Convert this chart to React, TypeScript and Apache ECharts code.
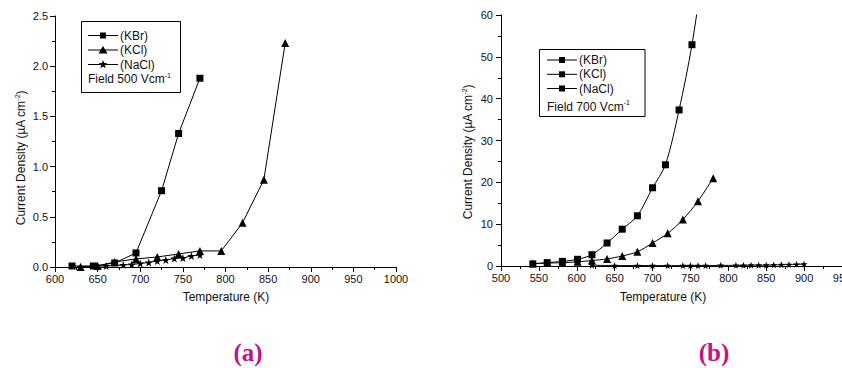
import React, { useEffect, useRef } from 'react';
import * as echarts from 'echarts';

// ---------- Data: panel (a), field 500 V/cm ----------
const tempA_KBr = [620, 645, 670, 695, 725, 745, 770];
const jA_KBr = [0.01, 0.01, 0.04, 0.14, 0.76, 1.33, 1.88];
const tempA_KCl = [630, 650, 670, 695, 720, 745, 770, 795, 820, 845, 870];
const jA_KCl = [0.0, 0.01, 0.05, 0.08, 0.1, 0.13, 0.16, 0.16, 0.44, 0.87, 2.23];
const tempA_NaCl = [630, 650, 660, 680, 690, 700, 710, 720, 730, 740, 750, 760, 770];
const jA_NaCl = [0.0, 0.01, 0.01, 0.02, 0.025, 0.035, 0.045, 0.06, 0.07, 0.085, 0.09, 0.11, 0.12];

// ---------- Data: panel (b), field 700 V/cm ----------
const tempB_KBr = [542, 561, 581, 601, 620, 640, 660, 680, 700, 717, 735, 752, 770];
const jB_KBr = [0.5, 0.8, 1.1, 1.6, 2.7, 5.5, 8.8, 12.0, 18.7, 24.2, 37.3, 52.9, 75];
const tempB_KCl = [542, 561, 581, 601, 620, 640, 660, 680, 700, 720, 740, 760, 780];
const jB_KCl = [0.6, 0.7, 0.8, 1.0, 1.3, 1.7, 2.4, 3.4, 5.5, 7.8, 11.1, 15.5, 21.0];
const tempB_NaCl = [620, 650, 680, 700, 720, 740, 750, 760, 770, 790, 810, 820, 830, 840, 850, 860, 870, 880, 890, 900];
const jB_NaCl = [0.2, 0.1, 0.1, 0.1, 0.1, 0.1, 0.1, 0.1, 0.1, 0.15, 0.15, 0.15, 0.2, 0.2, 0.2, 0.25, 0.3, 0.35, 0.4, 0.45];

const legendNames = ['(KBr)', '(KCl)', '(NaCl)'];
const fieldA = 'Field 500 Vcm';
const fieldB = 'Field 700 Vcm';
const yTitle = 'Current Density (µA cm';
const xTitle = 'Temperature (K)';

const FONT = '"Liberation Sans", Arial, sans-serif';
const STAR = 'path://M0,-10L2.35,-3.24L9.51,-3.09L3.8,1.24L5.88,8.09L0,4L-5.88,8.09L-3.8,1.24L-9.51,-3.09L-2.35,-3.24Z';

const zip = (xs: number[], ys: number[]) => xs.map((x, i) => [x, ys[i]]);

function starPoints(cx: number, cy: number, R: number, r: number) {
  const pts: number[][] = [];
  for (let i = 0; i < 10; i++) {
    const ang = -Math.PI / 2 + (i * Math.PI) / 5;
    const rad = i % 2 === 0 ? R : r;
    pts.push([cx + rad * Math.cos(ang), cy + rad * Math.sin(ang)]);
  }
  return pts;
}

function symbolGraphic(kind: string, cx: number, cy: number) {
  const style = { fill: '#000' };
  if (kind === 'rect') {
    return { type: 'rect', shape: { x: cx - 3, y: cy - 3, width: 6, height: 6 }, style };
  }
  if (kind === 'triangle') {
    return { type: 'polygon', shape: { points: [[cx, cy - 4], [cx + 4.5, cy + 3.5], [cx - 4.5, cy + 3.5]] }, style };
  }
  return { type: 'polygon', shape: { points: starPoints(cx, cy, 4.5, 1.9) }, style };
}

function legendGraphics(box: { x: number; y: number; w: number; h: number }, lineX0: number, rowsY: number[], kinds: string[], fieldText: string, fieldY: number) {
  const els: any[] = [
    { type: 'rect', shape: { x: box.x, y: box.y, width: box.w, height: box.h }, style: { fill: '#fff', stroke: '#000', lineWidth: 1 } },
  ];
  rowsY.forEach((y, i) => {
    els.push({ type: 'line', shape: { x1: lineX0, y1: y, x2: lineX0 + 30, y2: y }, style: { stroke: '#000', lineWidth: 1 } });
    els.push(symbolGraphic(kinds[i], lineX0 + 15, y));
    els.push({
      type: 'text', x: lineX0 + 32, y,
      style: { text: legendNames[i], fontSize: 12, fontFamily: FONT, fill: '#111', align: 'left', verticalAlign: 'middle' },
    });
  });
  els.push({
    type: 'text', x: lineX0, y: fieldY,
    style: {
      text: `{b|${fieldText}}{s|-1}`, align: 'left', verticalAlign: 'middle',
      rich: {
        b: { fontSize: 12, fontFamily: FONT, fill: '#111', lineHeight: 15 },
        s: { fontSize: 7, fontFamily: FONT, fill: '#111', verticalAlign: 'top', lineHeight: 8 },
      },
    },
  });
  return els;
}

function yTitleGraphic(x: number, y: number) {
  return {
    type: 'text', x, y, rotation: Math.PI / 2,
    style: {
      text: `{b|${yTitle}}{s|-2}{b|)}`, align: 'center', verticalAlign: 'middle',
      rich: {
        b: { fontSize: 12, fontFamily: FONT, fill: '#111', lineHeight: 15 },
        s: { fontSize: 7, fontFamily: FONT, fill: '#111', verticalAlign: 'top', lineHeight: 8 },
      },
    },
  };
}

function xTitleGraphic(x: number, y: number) {
  return {
    type: 'text', x, y,
    style: { text: xTitle, fontSize: 12, fontFamily: FONT, fill: '#111', align: 'center', verticalAlign: 'middle' },
  };
}

function panelLabel(text: string, x: number, y: number) {
  return {
    type: 'text', x, y,
    style: { text, fontSize: 25, fontWeight: 'bold', fontFamily: '"Liberation Serif", "DejaVu Serif", serif', fill: '#c0148c', align: 'center', verticalAlign: 'middle' },
  };
}

const axisCommon = {
  axisLine: { show: true, onZero: false, lineStyle: { color: '#000', width: 1 } },
  axisTick: { show: true, inside: false, length: 5, lineStyle: { color: '#000', width: 1 } },
  minorTick: { show: true, splitNumber: 2, length: 3, lineStyle: { color: '#000', width: 1 } },
  splitLine: { show: false },
  minorSplitLine: { show: false },
};

const labelStyle = { fontSize: 11, fontFamily: FONT, color: '#111' };
const plainInt = (v: number) => String(Math.round(v));

export default function App() {
  const ref = useRef<HTMLDivElement>(null);
  useEffect(() => {
    if (!ref.current) return;
    const chart = echarts.init(ref.current, null, { renderer: 'svg' });
    const lineStyle = { color: '#000', width: 1 };
    const itemStyle = { color: '#000' };
    const option: any = {
      animation: false,
      backgroundColor: '#fff',
      grid: [
        { left: 55, top: 16, width: 341, height: 251 },
        { left: 501, top: 15, width: 341, height: 251 },
      ],
      xAxis: [
        { type: 'value', gridIndex: 0, min: 600, max: 1000, interval: 50, ...axisCommon, axisLabel: { ...labelStyle, margin: 6, formatter: plainInt } },
        { type: 'value', gridIndex: 1, min: 500, max: 950, interval: 50, ...axisCommon, axisLabel: { ...labelStyle, margin: 6, formatter: plainInt } },
      ],
      yAxis: [
        { type: 'value', gridIndex: 0, min: 0, max: 2.5, interval: 0.5, ...axisCommon, axisLabel: { ...labelStyle, margin: 7, formatter: (v: number) => v.toFixed(1) } },
        { type: 'value', gridIndex: 1, min: 0, max: 60, interval: 10, ...axisCommon, axisLabel: { ...labelStyle, margin: 8, formatter: plainInt } },
      ],
      series: [
        { name: 'a (KBr)', type: 'line', xAxisIndex: 0, yAxisIndex: 0, data: zip(tempA_KBr, jA_KBr), symbol: 'rect', symbolSize: 7, lineStyle, itemStyle },
        { name: 'a (KCl)', type: 'line', xAxisIndex: 0, yAxisIndex: 0, data: zip(tempA_KCl, jA_KCl), symbol: 'triangle', symbolSize: 8, lineStyle, itemStyle },
        { name: 'a (NaCl)', type: 'line', xAxisIndex: 0, yAxisIndex: 0, data: zip(tempA_NaCl, jA_NaCl), symbol: STAR, symbolSize: 8, lineStyle, itemStyle },
        { name: 'b (KBr)', type: 'line', xAxisIndex: 1, yAxisIndex: 1, data: zip(tempB_KBr, jB_KBr), symbol: 'rect', symbolSize: 7, smooth: 0.3, clip: true, lineStyle, itemStyle },
        { name: 'b (KCl)', type: 'line', xAxisIndex: 1, yAxisIndex: 1, data: zip(tempB_KCl, jB_KCl), symbol: 'triangle', symbolSize: 8, smooth: 0.3, clip: true, lineStyle, itemStyle },
        { name: 'b (NaCl)', type: 'line', xAxisIndex: 1, yAxisIndex: 1, data: zip(tempB_NaCl, jB_NaCl), symbol: STAR, symbolSize: 7, smooth: 0.3, clip: true, lineStyle, itemStyle },
      ],
      graphic: [
        ...legendGraphics({ x: 81.5, y: 21.5, w: 99, h: 71 }, 88, [35.5, 50, 64.5], ['rect', 'triangle', 'star'], fieldA, 79),
        ...legendGraphics({ x: 539.5, y: 49.5, w: 105.5, h: 67 }, 547, [60, 74.3, 88.5], ['rect', 'rect', 'rect'], fieldB, 106.5),
        yTitleGraphic(21, 158),
        yTitleGraphic(468, 152),
        xTitleGraphic(226, 297),
        xTitleGraphic(663, 297),
        panelLabel('(a)', 248, 352),
        panelLabel('(b)', 714, 352),
      ],
    };
    chart.setOption(option);
    return () => chart.dispose();
  }, []);
  return (
    <div style={{ position: 'fixed', left: 0, top: 0, width: 842, height: 368, overflow: 'hidden', background: '#fff' }}>
      <div ref={ref} style={{ width: 880, height: 368 }} />
    </div>
  );
}
